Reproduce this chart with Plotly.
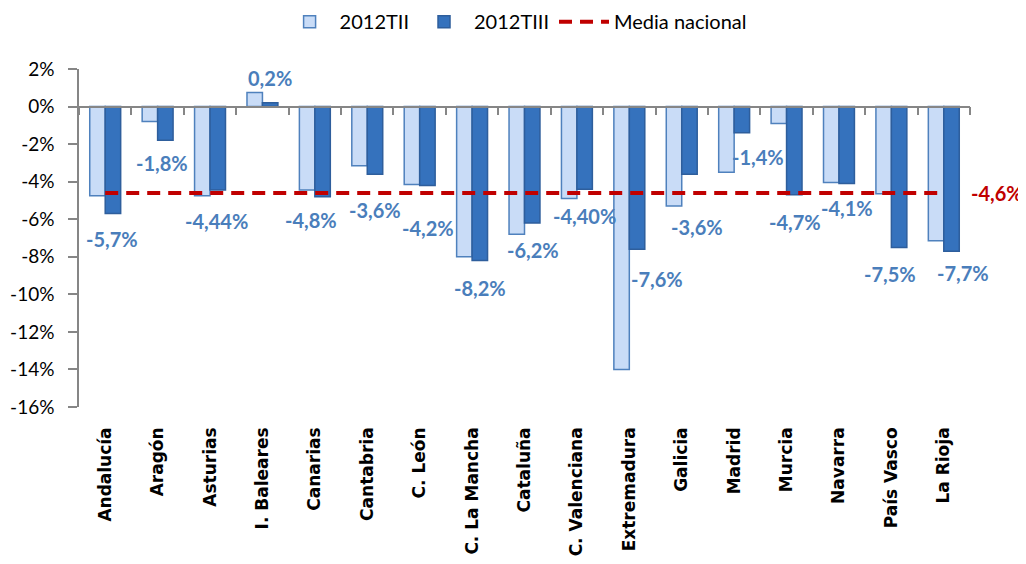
import plotly.graph_objects as go

# ---------------- data ----------------
regions = ["Andalucía", "Aragón", "Asturias", "I. Baleares", "Canarias", "Cantabria",
           "C. León", "C. La Mancha", "Cataluña", "C. Valenciana", "Extremadura",
           "Galicia", "Madrid", "Murcia", "Navarra", "País Vasco", "La Rioja"]
t2012_ii = [-4.75, -0.8, -4.75, 0.75, -4.45, -3.15, -4.15, -8.0, -6.8, -4.9, -14.0,
            -5.3, -3.5, -0.9, -4.05, -4.65, -7.15]
t2012_iii = [-5.7, -1.8, -4.44, 0.2, -4.8, -3.6, -4.2, -8.2, -6.2, -4.40, -7.6,
             -3.6, -1.4, -4.7, -4.1, -7.5, -7.7]
t2012_iii_labels = ["-5,7%", "-1,8%", "-4,44%", "0,2%", "-4,8%", "-3,6%", "-4,2%", "-8,2%",
                    "-6,2%", "-4,40%", "-7,6%", "-3,6%", "-1,4%", "-4,7%", "-4,1%",
                    "-7,5%", "-7,7%"]
media_nacional = -4.6
media_label = "-4,6%"
y_ticks = list(range(2, -17, -2))
y_tick_labels = [f"{v}%" for v in y_ticks]

# ---------------- styles ----------------
MAIN = "Lato, Open Sans, sans-serif"
CAT_FONT = "DejaVu Sans, Verdana, sans-serif"
AXIS_GREY = "#868686"
LABEL_BLUE = "#4a7ebb"
RED = "#c00000"
# label placement tweaks (pixels) mimicking the manual placement in the original
LABEL_NUDGE = {"Andalucía": (-1, 2), "Aragón": (-4, 4), "Asturias": (-2, -4),
               "Canarias": (-12, 4), "Cantabria": (0, -9), "C. León": (0, -16),
               "Extremadura": (20, -3), "Galicia": (7, -26), "Madrid": (16, 3),
               "Navarra": (0, 3), "País Vasco": (-9, 0), "La Rioja": (11, 5)}

fig = go.Figure()
fig.add_bar(x=regions, y=t2012_ii, name="2012TII",
            marker=dict(color="#c9dcf7", line=dict(color="#4f81bd", width=1.5)))
fig.add_bar(x=regions, y=t2012_iii, name="2012TIII",
            marker=dict(color="#3572bd", line=dict(color="#2e5e9c", width=1.5)))
fig.add_scatter(x=regions, y=[media_nacional] * len(regions), mode="lines",
                name="Media nacional",
                line=dict(color=RED, width=4, dash="13px,8px"))
# invisible helper trace to carry the category labels on the bottom axis
fig.add_scatter(x=regions, y=[0] * len(regions), xaxis="x2", mode="markers",
                marker=dict(opacity=0), showlegend=False, hoverinfo="skip")

annotations = []
for r, v, lab in zip(regions, t2012_iii, t2012_iii_labels):
    dx, dy = LABEL_NUDGE.get(r, (0, 0))
    annotations.append(dict(
        x=r, xref="x", y=v, yref="y", text=lab, showarrow=False,
        xshift=8 + dx, yshift=(-27 if v < 0 else 25) + dy,
        xanchor="center", yanchor="middle",
        font=dict(family=MAIN, size=20, color=LABEL_BLUE, weight="bold")))
annotations.append(dict(
    x=regions[-1], xref="x", y=media_nacional, yref="y", text=media_label,
    showarrow=False, xshift=25, xanchor="left", yanchor="middle",
    font=dict(family=MAIN, size=20, color=RED, weight="bold")))

yr = [y_ticks[-1], y_ticks[0]]
fig.update_layout(
    width=1026, height=564,
    margin=dict(l=71, r=64, t=61, b=165, autoexpand=False),
    paper_bgcolor="white", plot_bgcolor="white",
    barmode="group", bargap=0.41, bargroupgap=0,
    font=dict(family=MAIN, size=19, color="#000000"),
    showlegend=True,
    legend=dict(orientation="h", x=0.49, xanchor="center", y=1.14, yanchor="middle",
                font=dict(family=MAIN, size=20, color="#000000"),
                traceorder="normal", itemwidth=50),
    xaxis=dict(type="category", categoryorder="array", categoryarray=regions,
               range=[-0.5, len(regions) - 0.5],
               anchor="free", position=(0 - yr[0]) / (yr[1] - yr[0]),
               showline=True, linecolor=AXIS_GREY, linewidth=1.5,
               ticks="outside", tickson="boundaries", ticklen=8,
               tickcolor=AXIS_GREY, tickwidth=1.5,
               showticklabels=False, showgrid=False, zeroline=False),
    xaxis2=dict(type="category", categoryorder="array", categoryarray=regions,
                range=[-0.5, len(regions) - 0.5], overlaying="x", anchor="y",
                side="bottom", showline=False, ticks="", showgrid=False,
                zeroline=False, tickangle=-90, automargin=False,
                ticklabelstandoff=16,
                tickfont=dict(family=CAT_FONT, size=17, color="#000000",
                              weight="bold")),
    yaxis=dict(range=yr, tickvals=y_ticks, ticktext=y_tick_labels,
               showline=True, linecolor=AXIS_GREY, linewidth=1.5,
               ticks="outside", ticklen=9, tickcolor=AXIS_GREY, tickwidth=1.5,
               showgrid=False, zeroline=False, ticklabelstandoff=10,
               automargin=False,
               tickfont=dict(family=MAIN, size=19, color="#000000")),
    annotations=annotations,
    hovermode=False,
)

fig.write_html("out.html")
